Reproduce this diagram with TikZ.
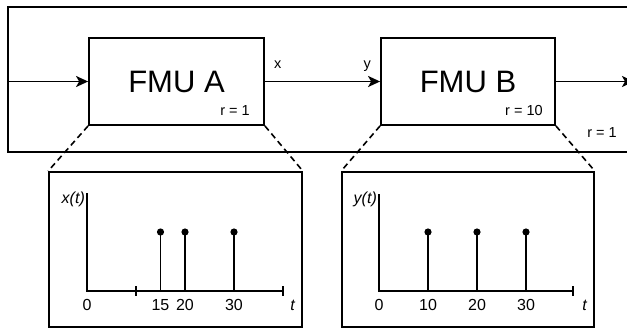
\documentclass[tikz,border=0pt]{standalone}
\usepackage{fontspec}
\setmainfont{Liberation Sans}
\usetikzlibrary{arrows.meta}

\begin{document}
\begin{tikzpicture}[
  x=1pt, y=-1pt,
  fmu/.style={draw, line width=1.8pt, fill=white, inner sep=0pt,
    minimum width=175pt, minimum height=87pt, font=\fontsize{31}{36}\selectfont},
  plotbox/.style={draw, line width=1.8pt, inner sep=0pt,
    minimum width=253pt, minimum height=155pt},
  lbl/.style={font=\fontsize{14.5}{17}\selectfont, inner sep=0pt},
  sig/.style={-{Stealth[length=12pt, width=11pt, inset=3pt]}, line width=1.8pt},
  zoomln/.style={line width=1.6pt, dash pattern=on 6pt off 4pt},
  axis/.style={line width=1.8pt},
  stem/.style={line width=1.8pt},
  ticklbl/.style={font=\fontsize{16}{18}\selectfont, inner sep=0pt}
]
  \useasboundingbox (0,0) rectangle (627,330);
  \clip (0,0) rectangle (627,330);

  % outer model
  \draw[line width=1.8pt] (8,7) rectangle (660,152);
  \node[lbl, anchor=base east] (rOut) at (617,137) {r = 1};

  % FMUs
  \node[fmu] (fmuA) at (176.5,81.5) {FMU A};
  \node[fmu, minimum width=174pt] (fmuB) at (468,81.5) {FMU B};
  \node[lbl, anchor=base east] (rA) at ([xshift=-15pt, yshift=10pt]fmuA.south east) {r = 1};
  \node[lbl, anchor=base east] (rB) at ([xshift=-13pt, yshift=10pt]fmuB.south east) {r = 10};

  % signals
  \coordinate (in) at (8,81.5);
  \coordinate (out) at (634,81.5);
  \draw[sig] (in) -- (fmuA.west);
  \draw[sig] (fmuA.east) -- (fmuB.west);
  \draw[sig] (fmuB.east) -- (out);
  \node[lbl, anchor=base west] (lx) at ([xshift=9pt, yshift=13pt]fmuA.east) {x};
  \node[lbl, anchor=base east] (ly) at ([xshift=-9pt, yshift=13pt]fmuB.west) {y};

  % zoom boxes
  \node[plotbox] (plotA) at (175.5,249.5) {};
  \node[plotbox, minimum width=252pt] (plotB) at (468,249.5) {};
  \draw[zoomln] (fmuA.south west) -- (plotA.north west);
  \draw[zoomln] (fmuA.south east) -- (plotA.north east);
  \draw[zoomln] (fmuB.south west) -- (plotB.north west);
  \draw[zoomln] (fmuB.south east) -- (plotB.north east);

  % x(t)
  \begin{scope}[shift={(87,291)}, x=4.9pt]
    \draw[axis] (0,-98) -- (0,0) -- (40,0);
    \draw[axis] (10,-5) -- (10,5);
    \draw[axis] (40,-5) -- (40,5);
    \foreach \t in {15,20,30} {
      \draw[stem] (\t,0) -- (\t,-59);
      \fill (\t,-59) circle (3.6pt);
      \node[ticklbl] at (\t,14) {\t};
    }
    \node[ticklbl] at (0,14) {0};
    \node[ticklbl] at (42,14) {\textit{t}};
    \node[lbl, font=\fontsize{16}{18}\selectfont, anchor=base east] at (-0.4,-88) {\textit{x(t)}};
  \end{scope}

  % y(t)
  \begin{scope}[shift={(379,291)}, x=4.9pt]
    \draw[axis] (0,-97) -- (0,0) -- (39.6,0);
    \draw[axis] (39.6,-5) -- (39.6,5);
    \foreach \t in {10,20,30} {
      \draw[stem] (\t,0) -- (\t,-59);
      \fill (\t,-59) circle (3.6pt);
      \node[ticklbl] at (\t,14) {\t};
    }
    \node[ticklbl] at (0,14) {0};
    \node[ticklbl] at (42,14) {\textit{t}};
    \node[lbl, font=\fontsize{16}{18}\selectfont, anchor=base east] at (-0.4,-88) {\textit{y(t)}};
  \end{scope}
\end{tikzpicture}
\end{document}
